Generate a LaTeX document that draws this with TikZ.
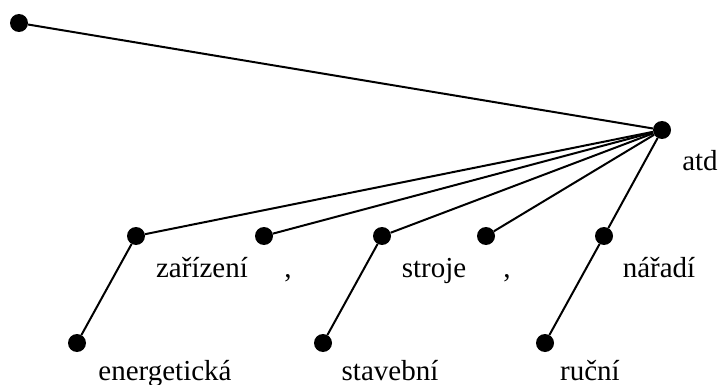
\documentclass[tikz,border=0pt]{standalone}
\usepackage{fontspec}
\setmainfont{Liberation Serif}
\begin{document}
\begin{tikzpicture}[x=1pt,y=-1pt,
  dot/.style={circle,fill=black,inner sep=0pt,minimum size=18pt},
  lbl/.style={anchor=base,inner sep=0pt,font=\fontsize{29}{34}\selectfont},
  edge/.style={line width=2pt}]
\useasboundingbox (0,0) rectangle (718,385);
\node[dot] (top) at (19,23) {};
\node[dot] (root) at (662,130) {};
\node[dot] (m1) at (136,236) {};
\node[dot] (m2) at (264,236) {};
\node[dot] (m3) at (382,236) {};
\node[dot] (m4) at (486,236) {};
\node[dot] (m5) at (604,236) {};
\node[dot] (b1) at (77,343) {};
\node[dot] (b2) at (323,343) {};
\node[dot] (b3) at (545,343) {};
\draw[edge] (top) -- (root);
\foreach \m in {m1,m2,m3,m4,m5} \draw[edge] (root) -- (\m);
\draw[edge] (m1) -- (b1);
\draw[edge] (m3) -- (b2);
\draw[edge] (m5) -- (b3);
\node[lbl] (latd) at (700,171) {atd};
\node[lbl] (lzar) at (202,277) {zařízení};
\node[lbl] (lc1) at (288,277) {,};
\node[lbl] (lstr) at (434,277) {stroje};
\node[lbl] (lc2) at (507,277) {,};
\node[lbl] (lnar) at (659,277) {nářadí};
\node[lbl] (lene) at (165,380) {energetická};
\node[lbl] (lsta) at (390,380) {stavební};
\node[lbl] (lruc) at (590,380) {ruční};
\end{tikzpicture}
\end{document}
